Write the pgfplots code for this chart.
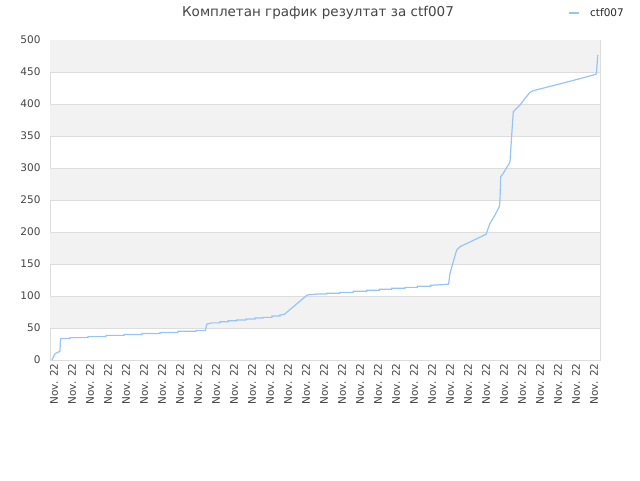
\documentclass[border=0pt]{standalone}
\usepackage{fontspec}
\setmainfont{DejaVu Sans}
\usepackage{pgfplots}
\pgfplotsset{compat=1.18}
\definecolor{lineblue}{RGB}{151,196,245}
\definecolor{band}{RGB}{242,242,242}
\definecolor{gridc}{RGB}{221,221,221}
\definecolor{txt}{RGB}{68,68,68}
\begin{document}
\begin{tikzpicture}[x=1pt,y=1pt]
\path[use as bounding box] (0,0) rectangle (640,480);
\node[text=txt, font=\fontsize{13.5}{15}\selectfont] at (318,467) {Комплетан график резултат за ctf007};
\begin{axis}[
    at={(50pt,120pt)}, anchor=south west,
    scale only axis, width=550pt, height=320pt,
    xmin=0, xmax=550, ymin=0, ymax=500,
    xtick={0,18,...,540}, xticklabel={Nov. 22},
    ytick={0,50,...,500},
    major tick length=0pt,
    axis line style={draw=gridc},
    /pgf/number format/assume math mode=true,
    tick label style={text=txt, font=\fontsize{10.5}{12}\selectfont},
    x tick label style={rotate=90, anchor=east, yshift=-4pt},
    y tick label style={xshift=-6pt},
    legend style={at={(0.9418,1.084)}, anchor=west, draw=none, fill=none,
        inner sep=0pt, column sep=10pt, nodes={inner sep=0pt},
        font=\fontsize{10.5}{12}\selectfont, text=black!85},
    legend image code/.code={\draw[#1] (0pt,0pt) -- (10pt,0pt);},
]
% alternating bands and grid lines
\fill[band] (axis cs:0,50) rectangle (axis cs:550,100);
\fill[band] (axis cs:0,150) rectangle (axis cs:550,200);
\fill[band] (axis cs:0,250) rectangle (axis cs:550,300);
\fill[band] (axis cs:0,350) rectangle (axis cs:550,400);
\fill[band] (axis cs:0,450) rectangle (axis cs:550,500);
\draw[gridc] (axis cs:0,50) -- (axis cs:550,50);
\draw[gridc] (axis cs:0,100) -- (axis cs:550,100);
\draw[gridc] (axis cs:0,150) -- (axis cs:550,150);
\draw[gridc] (axis cs:0,200) -- (axis cs:550,200);
\draw[gridc] (axis cs:0,250) -- (axis cs:550,250);
\draw[gridc] (axis cs:0,300) -- (axis cs:550,300);
\draw[gridc] (axis cs:0,350) -- (axis cs:550,350);
\draw[gridc] (axis cs:0,400) -- (axis cs:550,400);
\draw[gridc] (axis cs:0,450) -- (axis cs:550,450);

\addplot[lineblue, line width=1.2pt, forget plot] coordinates {
    (2,0) (5,10) (8,12) (10,14) (10.5,32) (11,33.5) (20,33.5) (20,35)
    (38,35) (38,36.5) (56,36.5) (56,38.5) (74,38.5) (74,40)
    (92,40) (92,41.5) (110,41.5) (110,43) (128,43) (128,44.8)
    (146,44.8) (146,46.3) (155.5,46.3) (156.7,56) (161.7,58) (170,58)
    (170,59.9) (178.3,59.9) (178.3,61.4) (186.7,61.4) (186.7,62.5)
    (196,62.5) (196,64) (205,64) (205,65.6) (213,65.6) (213,66.6)
    (222,66.6) (222,68.8) (230,68.8) (230,70.3) (234.3,71.3)
    (257.3,101.6) (266.7,103) (276.7,103) (276.7,104.2) (290,104.2)
    (290,105.7) (303.3,105.7) (303.3,107.3) (316.7,107.3) (316.7,108.9)
    (329.3,108.9) (329.3,110.4) (341.7,110.4) (341.7,112) (355,112)
    (355,113.5) (367.3,113.5) (367.3,115.1) (380.7,115.1) (380.7,116.7)
    (398.3,118.3) (398.7,119.8) (400,135.4) (403.3,153.6) (406.7,171.9)
    (410,177) (436,196.4) (440,213.5) (445,226.6) (449.3,239.5)
    (450,250) (450.7,286.4) (453.3,291.7) (459.3,307.3) (460,309.9)
    (461.7,351.6) (463.3,388) (465,390.6) (470,398.4) (475,408.8)
    (480,418.2) (483.3,420.8) (500,427.5) (520,435.5) (546,446.4)
    (546.7,453) (547.7,476.6)
};
\addlegendimage{lineblue, line width=2pt}
\addlegendentry{ctf007}
\end{axis}
\end{tikzpicture}
\end{document}
